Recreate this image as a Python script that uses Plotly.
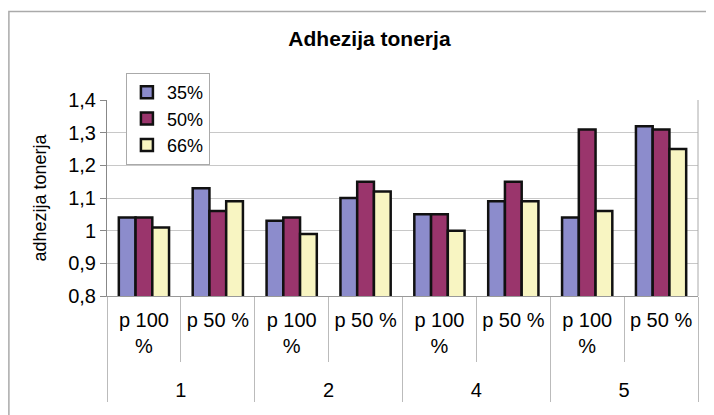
import plotly.graph_objects as go

# DATA
groups = ["<br>1", "<br>1", "<br>2", "<br>2", "<br>4", "<br>4", "<br>5", "<br>5"]
sub_labels = ["p 100<br>%", "p 50 %"] * 4
series_names = ["35%", "50%", "66%"]
vals_35 = [1.04, 1.13, 1.03, 1.10, 1.05, 1.09, 1.04, 1.32]
vals_50 = [1.04, 1.06, 1.04, 1.15, 1.05, 1.15, 1.31, 1.31]
vals_66 = [1.01, 1.09, 0.99, 1.12, 1.00, 1.09, 1.06, 1.25]
colors = ["#8C8CCC", "#9A356C", "#F8F5C2"]

FONT = "Liberation Sans, Arial, sans-serif"

fig = go.Figure()
for name, vals, col in zip(series_names, [vals_35, vals_50, vals_66], colors):
    fig.add_trace(go.Bar(
        x=[groups, sub_labels],
        y=vals,
        name=name,
        marker=dict(color=col, line=dict(color="#111111", width=2.5)),
    ))

# the page body has an 8px margin, so the figure is made 8px smaller
fig.update_layout(
    width=706, height=407,
    margin=dict(l=99, r=16, t=92, b=119),
    paper_bgcolor="white", plot_bgcolor="white",
    font=dict(family=FONT, size=19, color="black"),
    separators=",.",
    barmode="group",
    bargap=0.32,
    bargroupgap=0,
    title=dict(text="<b>Adhezija tonerja</b>", x=0.512, xanchor="center",
               y=0.925, yanchor="middle", font=dict(size=21)),
    showlegend=True,
    legend=dict(x=0.032, y=1.138, xanchor="left", yanchor="top",
                bgcolor="white", bordercolor="#aaaaaa", borderwidth=1,
                font=dict(size=18), tracegroupgap=0, itemwidth=30),
)

fig.update_yaxes(
    range=[0.8, 1.4], dtick=0.1, tickformat=".1~f",
    showgrid=True, gridcolor="#c8c8c8", gridwidth=1,
    showline=True, linecolor="#888888", linewidth=1,
    ticks="outside", ticklen=6, tickcolor="#888888",
    zeroline=False, automargin=False,
    tickfont=dict(size=20),
    title=dict(text="adhezija tonerja", standoff=16, font=dict(size=18)),
)
fig.update_xaxes(
    type="multicategory", automargin=False,
    showline=True, linecolor="#999999", linewidth=1,
    ticks="outside", tickson="boundaries", ticklen=65, tickcolor="#bbbbbb",
    showdividers=True, dividercolor="#bbbbbb", dividerwidth=1,
    tickfont=dict(size=20), ticklabelstandoff=6,
    showgrid=False,
)

# plot area right border
fig.add_shape(type="line", xref="paper", yref="paper",
              x0=1, x1=1, y0=0, y1=1, line=dict(color="#aaaaaa", width=1))
# outer chart border (left, top, right)
fig.add_shape(type="path", xref="paper", yref="paper",
              path="M -0.166,-0.8 L -0.166,1.452 L 1.019,1.452 L 1.019,-0.8",
              line=dict(color="#aaaaaa", width=1.5))

fig.write_html("out.html")
